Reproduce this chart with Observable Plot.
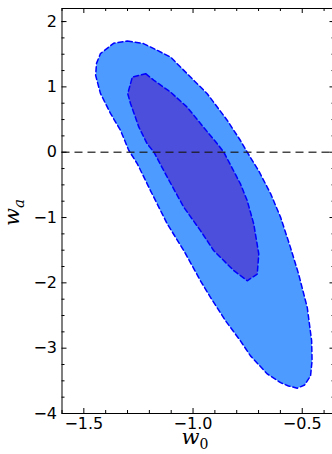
<!DOCTYPE html>
<html>
<head>
<meta charset="utf-8">
<script src="https://cdn.jsdelivr.net/npm/d3@7"></script>
<script src="https://cdn.jsdelivr.net/npm/@observablehq/plot@0.6"></script>
<style>
  html, body { margin: 0; padding: 0; background: #fff; overflow: hidden; }
</style>
</head>
<body>
<div id="chart"></div>
<script>
// ---- data ----
// outer (95%) contour of (w0, wa)
const outerW0 = [-1.301, -1.227, -1.164, -1.103, -1.027, -0.935, -0.843, -0.783, -0.752, -0.700,
                 -0.645, -0.599, -0.554, -0.517, -0.477, -0.457, -0.455, -0.462, -0.489, -0.523,
                 -0.563, -0.599, -0.660, -0.737, -0.783, -0.851, -0.920, -0.966, -1.042, -1.118,
                 -1.195, -1.255, -1.294, -1.332, -1.378, -1.424, -1.446, -1.442, -1.424, -1.364];
const outerWa = [1.702, 1.663, 1.560, 1.457, 1.202, 0.896, 0.486, 0.179, 0.000, -0.281,
                 -0.633, -0.997, -1.457, -1.860, -2.377, -2.888, -3.195, -3.425, -3.563, -3.613,
                 -3.578, -3.528, -3.394, -3.118, -2.888, -2.581, -2.224, -1.968, -1.508, -1.098,
                 -0.587, -0.178, 0.026, 0.333, 0.594, 0.900, 1.176, 1.360, 1.509, 1.667];
// inner (68%) contour
const innerW0 = [-1.217, -1.179, -1.103, -1.027, -0.952, -0.889, -0.859, -0.783, -0.752, -0.722,
                 -0.699, -0.706, -0.752, -0.813, -0.905, -0.966, -1.042, -1.118, -1.179, -1.210,
                 -1.248, -1.286, -1.299, -1.278];
const innerWa = [1.202, 1.100, 0.920, 0.690, 0.383, 0.129, 0.000, -0.485, -0.741, -1.098,
                 -1.558, -1.865, -1.968, -1.814, -1.508, -1.201, -0.844, -0.383, 0.000, 0.129,
                 0.383, 0.742, 0.896, 1.150];
const zeroLine = [0];

// ticks
const xTicks = [-1.5, -1.0, -0.5];
const xTickLabels = ["\u22121.5", "\u22121.0", "\u22120.5"];
const xMinor = [-1.6, -1.4, -1.3, -1.2, -1.1, -0.9, -0.8, -0.7, -0.6, -0.4];
const yTicks = [-4, -3, -2, -1, 0, 1, 2];
const yTickLabels = ["\u22124", "\u22123", "\u22122", "\u22121", "0", "1", "2"];
const yMinor = [-3.75, -3.5, -3.25, -2.75, -2.5, -2.25, -1.75, -1.5, -1.25, -0.75, -0.5, -0.25,
                0.25, 0.5, 0.75, 1.25, 1.5, 1.75, 2.0];
const xDomain = [-1.6, -0.35];
const yDomain = [-4, 2.2];

// ---- layout ----
const W = 332, H = 454;
const mL = 61.5, mT = 8, mB = 41, mR = -2.5;
const fw = W - mL - mR, fh = H - mT - mB;
const majorLen = 5, minorLen = 3;

const outerIdx = d3.range(outerW0.length);
const innerIdx = d3.range(innerW0.length);

const chart = Plot.plot({
  width: W, height: H,
  marginLeft: mL, marginTop: mT, marginBottom: mB, marginRight: mR,
  style: { fontFamily: "DejaVu Sans", fontSize: "16px", color: "#000", background: "#fff", overflow: "visible" },
  x: { domain: xDomain, ticks: xTicks, tickFormat: d => xTickLabels[xTicks.indexOf(d)], tickSize: 0, tickPadding: 4, label: null },
  y: { domain: yDomain, ticks: yTicks, tickFormat: d => yTickLabels[yTicks.indexOf(d)], tickSize: 0, tickPadding: 5, label: null },
  marks: [
    Plot.line(outerIdx, { x: i => outerW0[i], y: i => outerWa[i], curve: "linear-closed",
      fill: "#4d9bff", stroke: "#0000ff", strokeWidth: 1.5, strokeDasharray: "5,3" }),
    Plot.line(innerIdx, { x: i => innerW0[i], y: i => innerWa[i], curve: "linear-closed",
      fill: "#4c4edc", stroke: "#0000ff", strokeWidth: 1.5, strokeDasharray: "5,3" }),
    Plot.ruleY(zeroLine, { y: d => d, stroke: "#1a1a1a", strokeOpacity: 0.8, strokeWidth: 1.5, strokeDasharray: "8,5" }),
    // inward ticks: bottom / top
    Plot.tickX(xTicks, { x: d => d, insetTop: fh - majorLen, stroke: "#000" }),
    Plot.tickX(xMinor, { x: d => d, insetTop: fh - minorLen, stroke: "#000" }),
    Plot.tickX(xTicks, { x: d => d, insetBottom: fh - majorLen, stroke: "#000" }),
    Plot.tickX(xMinor, { x: d => d, insetBottom: fh - minorLen, stroke: "#000" }),
    // inward ticks: left / right
    Plot.tickY(yTicks, { y: d => d, insetRight: fw - majorLen, stroke: "#000" }),
    Plot.tickY(yMinor, { y: d => d, insetRight: fw - minorLen, stroke: "#000" }),
    Plot.tickY(yTicks, { y: d => d, insetLeft: fw - majorLen, stroke: "#000" }),
    Plot.tickY(yMinor, { y: d => d, insetLeft: fw - minorLen, stroke: "#000" }),
    Plot.frame({ stroke: "#000", strokeWidth: 1 })
  ]
});

document.getElementById("chart").appendChild(chart);

// axis titles with subscripts (math-style)
const svg = d3.select(chart);
const xr = chart.scale("x").range;
const yr = chart.scale("y").range;
const xl = svg.append("text")
  .attr("x", (xr[0] + xr[1]) / 2 - 3)
  .attr("y", 444)
  .attr("text-anchor", "middle")
  .attr("fill", "#000")
  .style("font-family", "'DejaVu Serif', serif");
xl.append("tspan").attr("font-style", "italic").attr("font-size", 21).text("w");
xl.append("tspan").attr("font-size", 14).attr("dy", 5).text("0");

const yl = svg.append("text")
  .attr("transform", `translate(19,${(yr[0] + yr[1]) / 2 + 2}) rotate(-90)`)
  .attr("text-anchor", "middle")
  .attr("fill", "#000")
  .style("font-family", "'DejaVu Serif', serif");
yl.append("tspan").attr("font-style", "italic").attr("font-size", 21).text("w");
yl.append("tspan").attr("font-style", "italic").attr("font-size", 15).attr("dy", 5).text("a");
</script>
</body>
</html>
